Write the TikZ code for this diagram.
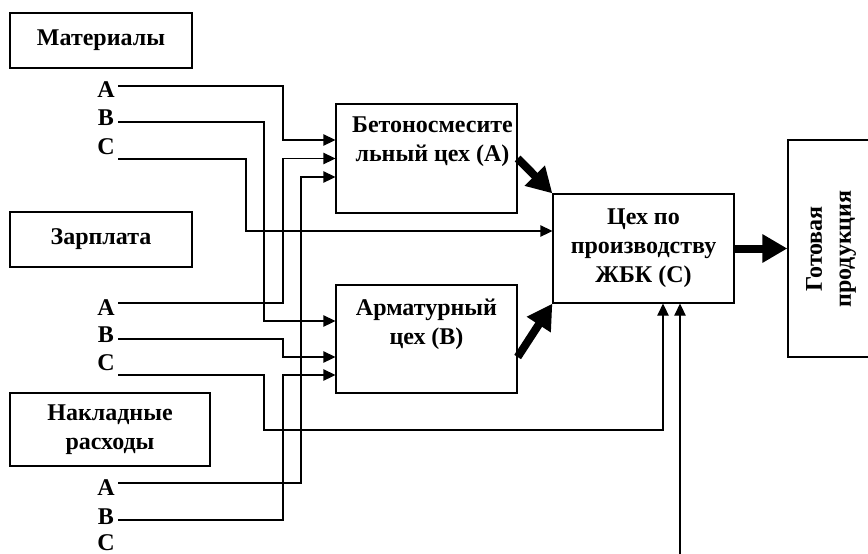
\documentclass[tikz,border=0pt]{standalone}
\usepackage{fontspec}
\setmainfont{Liberation Serif}
\usetikzlibrary{arrows.meta}
\usetikzlibrary{positioning}
\tikzset{every picture/.style={line width=1.3pt},
  box/.style={draw,inner sep=0pt},
  txt/.style={font=\fontsize{24}{29}\selectfont\bfseries,align=center,inner sep=0pt},
  conn/.style={-{Triangle[length=12pt,width=11.5pt]}},
  bigarrow/.style={line width=8pt,-{Triangle[length=25pt,width=27pt]}}}

\begin{document}
\begin{tikzpicture}[x=1pt,y=-1pt]
\clip (0,0) rectangle (868,554);
\node[box,txt,minimum width=182,minimum height=55] (mat) at (101,40.5) {Материалы};
\node[box,txt,minimum width=182,minimum height=55] (zar) at (101,239.5) {Зарплата};
\node[box,txt,minimum width=200,minimum height=73] (nakl) at (110,429.5) {Накладные\\расходы};
\node[box,minimum width=181,minimum height=109] (shopA) at (426.5,158.5) {};
\node[box,minimum width=181,minimum height=108] (shopB) at (426.5,339) {};
\node[box,txt,minimum width=181,minimum height=109] (shopC) at (643.5,248.5) {Цех по\\производству\\ЖБК (С)};
\node[box,minimum width=100,minimum height=217] (prod) at (838,248.5) {};
\node[txt,below=12.5pt of shopA.north,xshift=6pt] (shopAtxt) {Бетоносмесите\\льный цех (А)};
\node[txt,below=13.5pt of shopB.north] (shopBtxt) {Арматурный\\цех (В)};
\node[txt,rotate=90] (prodtxt) at (831,249) {Готовая\\продукция};
% A, B, C
\node[txt] (mAl) at (106,90) {А};
\node[txt] (mBl) at (106,118) {В};
\node[txt] (mCl) at (106,147) {С};
\node[txt] (zAl) at (106,308) {А};
\node[txt] (zBl) at (106,335) {В};
\node[txt] (zCl) at (106,363) {С};
\node[txt] (nAl) at (106,488) {А};
\node[txt] (nBl) at (106,517) {В};
\node[txt] (nCl) at (106,543) {С};
\coordinate (mA0) at (118,86);
\coordinate (mB0) at (118,122);
\coordinate (mC0) at (118,159);
\coordinate (zA0) at (118,303);
\coordinate (zB0) at (118,339);
\coordinate (zC0) at (118,375);
\coordinate (nA0) at (118,483);
\coordinate (nB0) at (118,520);
\coordinate (nC0) at (680,560);
\draw[conn] (mA0) -| (283,140) -- ([yshift=18.5pt]shopA.west);
\draw[conn] (mB0) -| (264,321) -- ([yshift=18pt]shopB.west);
\draw[conn] (mC0) -| (246,231) -- ([yshift=17.5pt]shopC.west);
\draw[conn] (zA0) -| (283,158.5) -- (shopA.west);
\draw[conn] (zB0) -| (283,357) -- ([yshift=-18pt]shopB.west);
\draw[conn] (zC0) -| (264,430) -| ([xshift=19.5pt]shopC.south);
\draw[conn] (nA0) -| (301,177) -- ([yshift=-18.5pt]shopA.west);
\draw[conn] (nB0) -| (283,375) -- ([yshift=-36pt]shopB.west);
\draw[conn] (nC0) -- ([xshift=36.5pt]shopC.south);
\draw[bigarrow] (shopA.east) -- (shopC.north west);
\draw[bigarrow] ([yshift=-18pt]shopB.east) -- (shopC.south west);
\draw[bigarrow] (shopC.east) -- (prod.west);
\end{tikzpicture}
\end{document}
